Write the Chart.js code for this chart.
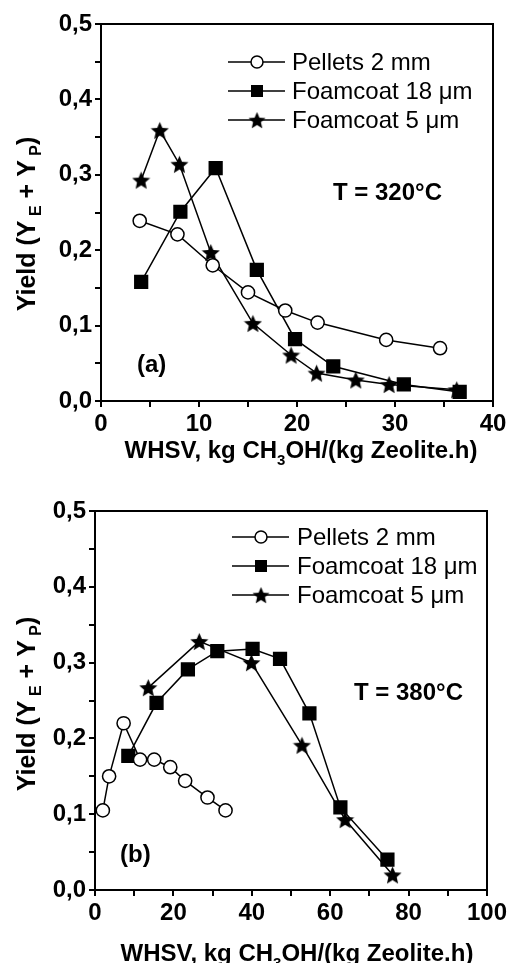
<!DOCTYPE html>
<html>
<head>
<meta charset="utf-8">
<script src="https://cdn.jsdelivr.net/npm/chart.js@4.4.1/dist/chart.umd.min.js"></script>
<style>
  html, body { margin: 0; padding: 0; background: #fff; }
  #wrap { position: relative; width: 511px; height: 963px; }
  canvas { position: absolute; left: 0; }
</style>
</head>
<body>
<div id="wrap">
  <canvas id="chart-320" width="511" height="480" style="top:0px"></canvas>
  <canvas id="chart-380" width="511" height="483" style="top:480px"></canvas>
</div>
<script>
// Series names (same in both panels)
const seriesNames = ["Pellets 2 mm", "Foamcoat 18 \u03bcm", "Foamcoat 5 \u03bcm"];

// Panel (a), T = 320°C
const pellets320X = [3.95, 7.8, 11.4, 15.0, 18.8, 22.1, 29.1, 34.6];
const pellets320Y = [0.239, 0.221, 0.180, 0.144, 0.120, 0.104, 0.081, 0.070];
const foam18_320X = [4.1, 8.1, 11.7, 15.9, 19.8, 23.7, 30.9, 36.6];
const foam18_320Y = [0.158, 0.251, 0.309, 0.174, 0.082, 0.046, 0.022, 0.012];
const foam5_320X = [4.1, 6.0, 8.0, 11.2, 15.5, 19.4, 22.0, 26.0, 29.4, 36.3];
const foam5_320Y = [0.293, 0.359, 0.314, 0.197, 0.103, 0.061, 0.037, 0.028, 0.022, 0.015];

// Panel (b), T = 380°C
const pellets380X = [2.0, 3.6, 7.3, 11.5, 15.1, 19.2, 23.0, 28.7, 33.3];
const pellets380Y = [0.105, 0.150, 0.220, 0.172, 0.172, 0.162, 0.144, 0.122, 0.105];
const foam18_380X = [8.5, 15.7, 23.7, 31.2, 40.2, 47.2, 54.7, 62.6, 74.6];
const foam18_380Y = [0.177, 0.247, 0.291, 0.315, 0.318, 0.305, 0.233, 0.109, 0.040];
const foam5_380X = [13.6, 26.6, 39.9, 52.8, 63.8, 75.9];
const foam5_380Y = [0.267, 0.328, 0.300, 0.191, 0.093, 0.020];

// Tick labels (major ticks only, minor ticks get no label)
const yTickLabels = ["0,0", "0,1", "0,2", "0,3", "0,4", "0,5"];
const xTickLabels320 = ["0", "10", "20", "30", "40"];
const xTickLabels380 = ["0", "20", "40", "60", "80", "100"];

const FONT = "'Liberation Sans', Arial, sans-serif";

// filled five point star used as point style
function makeStar(size) {
  const c = document.createElement("canvas");
  c.width = size;
  c.height = size;
  const ctx = c.getContext("2d");
  const outer = size / 2;
  const inner = outer * 0.46;
  ctx.beginPath();
  for (let i = 0; i < 10; i++) {
    const r = i % 2 ? inner : outer;
    const a = -Math.PI / 2 + (i * Math.PI) / 5;
    const px = size / 2 + r * Math.cos(a);
    const py = size / 2 + 1 + r * Math.sin(a);
    if (i === 0) ctx.moveTo(px, py);
    else ctx.lineTo(px, py);
  }
  ctx.closePath();
  ctx.fillStyle = "#000";
  ctx.fill();
  return c;
}
const star = makeStar(19);

function toPoints(xs, ys) {
  return xs.map((x, i) => ({ x: x, y: ys[i] }));
}

function makeDatasets(px, py, fx, fy, sx, sy) {
  const common = {
    showLine: true,
    borderColor: "#000",
    borderWidth: 1.5,
    pointBorderColor: "#000",
    pointBorderWidth: 1.5,
    clip: false,
  };
  return [
    Object.assign({}, common, {
      label: seriesNames[0],
      data: toPoints(px, py),
      pointStyle: "circle",
      pointRadius: 6.6,
      pointBackgroundColor: "#fff",
    }),
    Object.assign({}, common, {
      label: seriesNames[1],
      data: toPoints(fx, fy),
      pointStyle: "rect",
      pointRadius: 9,
      pointBackgroundColor: "#000",
    }),
    Object.assign({}, common, {
      label: seriesNames[2],
      data: toPoints(sx, sy),
      pointStyle: star,
      pointRadius: 9.5,
    }),
  ];
}

// draws text pieces with subscripts, centred on x
function richText(ctx, parts, x, y, size, subRatio, shift) {
  const main = "bold " + size + "px " + FONT;
  const sub = "bold " + Math.round(size * subRatio) + "px " + FONT;
  let total = 0;
  parts.forEach((p) => {
    ctx.font = p.sub ? sub : main;
    total += ctx.measureText(p.t).width;
  });
  let cx = x - total / 2;
  ctx.textAlign = "left";
  ctx.textBaseline = "alphabetic";
  parts.forEach((p) => {
    ctx.font = p.sub ? sub : main;
    ctx.fillText(p.t, cx, p.sub ? y + shift : y);
    cx += ctx.measureText(p.t).width;
  });
}

function drawMarker(ctx, i, x, y) {
  ctx.lineWidth = 1.5;
  ctx.strokeStyle = "#000";
  if (i === 0) {
    ctx.beginPath();
    ctx.arc(x, y, 6, 0, Math.PI * 2);
    ctx.fillStyle = "#fff";
    ctx.fill();
    ctx.stroke();
  } else if (i === 1) {
    ctx.fillStyle = "#000";
    ctx.fillRect(x - 6, y - 6, 12, 12);
  } else {
    ctx.drawImage(star, x - 9, y - 9, 18, 18);
  }
}

// frame, legend, axis titles and notes
function decorations(cfg) {
  return {
    id: "decorations",
    afterDraw(chart) {
      const ctx = chart.ctx;
      const a = chart.chartArea;
      ctx.save();
      // top and right edge of the box
      ctx.strokeStyle = "#000";
      ctx.lineWidth = 2;
      ctx.beginPath();
      ctx.moveTo(a.left, a.top);
      ctx.lineTo(a.right, a.top);
      ctx.lineTo(a.right, a.bottom);
      ctx.stroke();

      // legend
      cfg.legendRows.forEach((ly, i) => {
        ctx.lineWidth = 1.5;
        ctx.beginPath();
        ctx.moveTo(cfg.legendX, ly);
        ctx.lineTo(cfg.legendX + 57, ly);
        ctx.stroke();
        drawMarker(ctx, i, cfg.legendX + 29, ly);
        ctx.fillStyle = "#000";
        ctx.font = "24px " + FONT;
        ctx.textAlign = "left";
        ctx.textBaseline = "middle";
        ctx.fillText(seriesNames[i], cfg.legendTextX, ly + 1);
      });

      // notes
      ctx.fillStyle = "#000";
      ctx.font = "bold 24px " + FONT;
      ctx.textAlign = "left";
      ctx.textBaseline = "middle";
      ctx.fillText(cfg.temp, cfg.tempX, cfg.tempY);
      ctx.fillText(cfg.tag, cfg.tagX, cfg.tagY);

      // x title
      richText(
        ctx,
        [{ t: "WHSV, kg CH" }, { t: "3", sub: true }, { t: "OH/(kg Zeolite.h)" }],
        cfg.xTitleX,
        cfg.xTitleY,
        24,
        0.62,
        7
      );

      // y title, rotated
      ctx.translate(cfg.yTitleX, cfg.yTitleY);
      ctx.rotate(-Math.PI / 2);
      richText(
        ctx,
        [{ t: "Yield (Y" }, { t: " E", sub: true }, { t: " + Y" }, { t: " P", sub: true }, { t: ")" }],
        0,
        0,
        25,
        0.62,
        6
      );
      ctx.restore();
    },
  };
}

function axisStyle() {
  return {
    grid: {
      drawOnChartArea: false,
      drawTicks: true,
      tickLength: 6,
      lineWidth: 2,
      color: "#000",
    },
    border: { display: true, width: 2, color: "#000" },
  };
}

function createChart(canvasId, datasets, xMax, xStep, xLabels, box, cfg) {
  const xAxis = Object.assign(axisStyle(), {
    type: "linear",
    position: "bottom",
    min: 0,
    max: xMax,
    afterFit: (scale) => {
      scale.height = box.xHeight;
    },
    ticks: {
      stepSize: xStep,
      autoSkip: false,
      maxRotation: 0,
      padding: 3,
      color: "#000",
      font: { family: FONT, size: 24, weight: "bold" },
      callback: (v, i) => (i % 2 === 0 ? xLabels[i / 2] : ""),
    },
  });
  const yAxis = Object.assign(axisStyle(), {
    type: "linear",
    min: 0,
    max: 0.5,
    afterFit: (scale) => {
      scale.width = box.yWidth;
    },
    ticks: {
      stepSize: 0.05,
      autoSkip: false,
      padding: 3,
      color: "#000",
      font: { family: FONT, size: 24, weight: "bold" },
      callback: (v, i) => (i % 2 === 0 ? yTickLabels[i / 2] : ""),
    },
  });

  new Chart(document.getElementById(canvasId), {
    type: "scatter",
    data: { datasets: datasets },
    options: {
      responsive: false,
      animation: false,
      devicePixelRatio: 1,
      layout: { padding: { top: box.top, right: box.right, left: 0, bottom: 0 } },
      plugins: {
        legend: { display: false },
        tooltip: { enabled: false },
      },
      scales: { x: xAxis, y: yAxis },
    },
    plugins: [decorations(cfg)],
  });
}

createChart(
  "chart-320",
  makeDatasets(pellets320X, pellets320Y, foam18_320X, foam18_320Y, foam5_320X, foam5_320Y),
  40,
  5,
  xTickLabels320,
  { top: 24, right: 18, yWidth: 101, xHeight: 79 },
  {
    legendX: 228,
    legendTextX: 292,
    legendRows: [62, 91, 120],
    temp: "T = 320\u00b0C",
    tempX: 333,
    tempY: 193,
    tag: "(a)",
    tagX: 137,
    tagY: 365,
    xTitleX: 301,
    xTitleY: 458,
    yTitleX: 35,
    yTitleY: 224,
  }
);

createChart(
  "chart-380",
  makeDatasets(pellets380X, pellets380Y, foam18_380X, foam18_380Y, foam5_380X, foam5_380Y),
  100,
  10,
  xTickLabels380,
  { top: 31, right: 24, yWidth: 95, xHeight: 73 },
  {
    legendX: 232,
    legendTextX: 297,
    legendRows: [57, 86, 115],
    temp: "T = 380\u00b0C",
    tempX: 354,
    tempY: 213,
    tag: "(b)",
    tagX: 120,
    tagY: 375,
    xTitleX: 297,
    xTitleY: 481,
    yTitleX: 35,
    yTitleY: 224,
  }
);
</script>
</body>
</html>
